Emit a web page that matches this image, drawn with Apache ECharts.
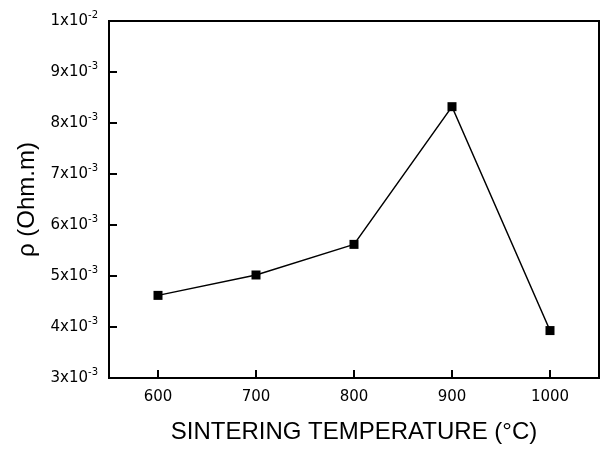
<!DOCTYPE html>
<html>
<head>
<meta charset="utf-8" />
<script type="text/javascript" src="https://cdn.jsdelivr.net/npm/echarts@6/dist/echarts.min.js"></script>
<style>
  html, body { margin: 0; padding: 0; background: #fff; }
  #main { width: 603px; height: 449px; }
</style>
</head>
<body>
<div id="main"></div>
<script>
// sintering temperature (°C)
var temps = ['600', '700', '800', '900', '1000'];
// resistivity, in units of 1e-3 Ohm.m
var rho = [4.62, 5.02, 5.62, 8.32, 3.93];

var chart = echarts.init(document.getElementById('main'));

chart.setOption({
  animation: false,
  backgroundColor: '#fff',
  textStyle: { fontFamily: 'DejaVu Sans', color: '#000' },
  grid: {
    left: 109, right: 4, top: 21, bottom: 69,
    show: true, borderColor: '#000', borderWidth: 2
  },
  xAxis: {
    type: 'category',
    data: temps,
    boundaryGap: true,
    name: 'SINTERING TEMPERATURE (°C)',
    nameLocation: 'middle',
    nameGap: 42,
    nameTextStyle: { fontFamily: 'Liberation Sans', fontSize: 24, color: '#000' },
    splitLine: { show: false },
    axisLine: { show: true, lineStyle: { color: '#000', width: 2 } },
    axisTick: { show: true, inside: true, length: 8, alignWithLabel: true, lineStyle: { color: '#000', width: 2 } },
    axisLabel: { margin: 12, fontSize: 15, color: '#000' }
  },
  yAxis: {
    type: 'value',
    min: 3, max: 10, interval: 1,
    name: 'ρ (Ohm.m)',
    nameLocation: 'middle',
    nameGap: 64,
    nameRotate: 90,
    nameTextStyle: { fontFamily: 'Liberation Sans', fontSize: 24, color: '#000' },
    splitLine: { show: false },
    axisLine: { show: true, lineStyle: { color: '#000', width: 2 } },
    axisTick: { show: true, inside: true, length: 8, lineStyle: { color: '#000', width: 2 } },
    axisLabel: {
      margin: 11,
      formatter: function (v) {
        if (v === 10) return '{b|1x10}{s|-2}';
        return '{b|' + v + 'x10}{s|-3}';
      },
      rich: {
        b: { fontSize: 15, color: '#000', fontFamily: 'DejaVu Sans' },
        s: { fontSize: 10, color: '#000', fontFamily: 'DejaVu Sans', padding: [0, 0, 12, 0] }
      }
    }
  },
  series: [{
    type: 'line',
    data: rho,
    symbol: 'rect',
    symbolSize: 9,
    lineStyle: { color: '#000', width: 1.5 },
    itemStyle: { color: '#000' }
  }]
});
</script>
</body>
</html>
